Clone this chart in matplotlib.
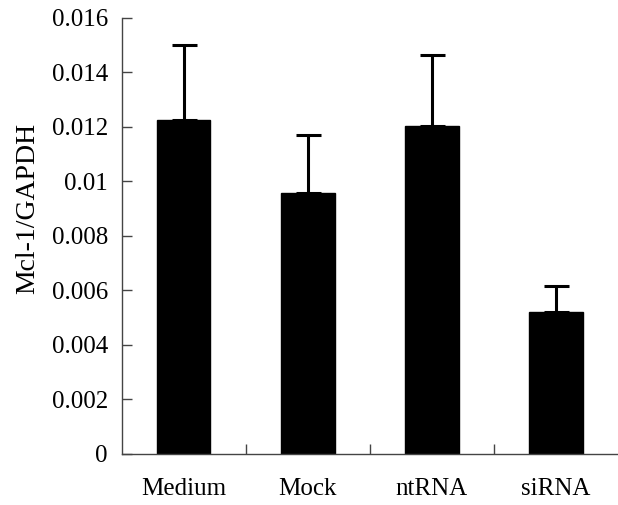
import numpy as np
import matplotlib
matplotlib.use('Agg')
import matplotlib.pyplot as plt
from matplotlib.ticker import FixedLocator, FuncFormatter

groups = ['Medium', 'Mock', 'ntRNA', 'siRNA']
ratio = [0.01224, 0.00958, 0.01202, 0.00520]
err = [0.00274, 0.00211, 0.00261, 0.00096]
yticks = [0, 0.002, 0.004, 0.006, 0.008, 0.01, 0.012, 0.014, 0.016]

plt.rcParams['font.family'] = ['Liberation Serif', 'DejaVu Serif']

fig = plt.figure(figsize=(6.18, 5.05), dpi=100)
ax = fig.add_axes([0.197, 0.101, 0.803, 0.864])

x = np.arange(len(groups))
ax.bar(x, ratio, width=0.43, color='black', edgecolor='black', zorder=2)
ax.errorbar(x, ratio, yerr=[np.zeros(len(err)), err], fmt='none',
            ecolor='black', elinewidth=2.2, capsize=9, capthick=2.2, zorder=3)

ax.set_xlim(-0.5, len(groups) - 0.5)
ax.set_ylim(0, 0.016)
ax.set_yticks(yticks)
ax.yaxis.set_major_formatter(FuncFormatter(lambda v, p: f'{v:g}'))
ax.set_xticks(x)
ax.set_xticklabels(groups)
ax.xaxis.set_minor_locator(FixedLocator(x[:-1] + 0.5))

ax.tick_params(axis='x', which='major', length=0, pad=17, labelsize=18)
ax.tick_params(axis='x', which='minor', direction='in', length=7, width=1, color='#444')
ax.tick_params(axis='y', direction='in', length=7, width=1, color='#444', pad=10, labelsize=18)

ax.set_ylabel('Mcl-1/GAPDH', fontsize=20, va='center')
ax.yaxis.set_label_coords(-0.19, 0.562)

for s in ['top', 'right']:
    ax.spines[s].set_visible(False)
for s in ['left', 'bottom']:
    ax.spines[s].set_color('#444')
    ax.spines[s].set_linewidth(1)

fig.savefig('out.png', dpi=100)
